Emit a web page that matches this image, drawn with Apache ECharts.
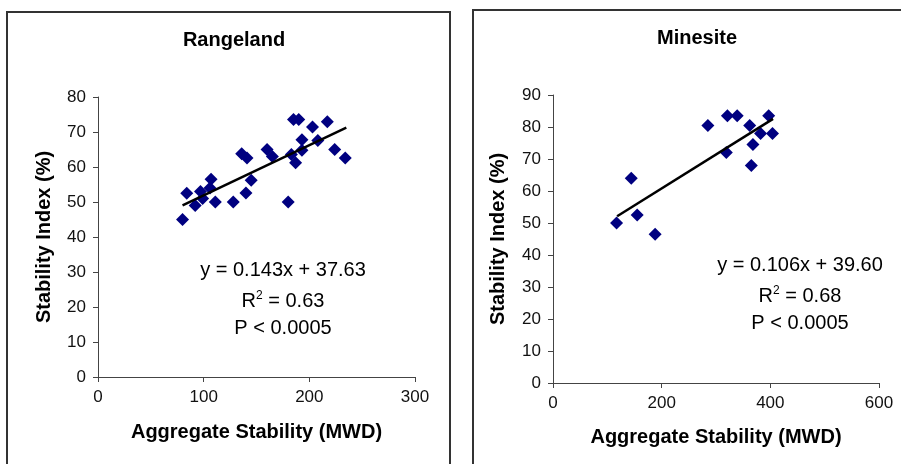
<!DOCTYPE html>
<html>
<head>
<meta charset="utf-8">
<script src="https://cdn.jsdelivr.net/npm/echarts@6/dist/echarts.min.js"></script>
<style>
  html, body { margin: 0; padding: 0; background: #fff; }
  #main { width: 901px; height: 464px; }
</style>
</head>
<body>
<div id="main"></div>
<script>
// Rangeland: aggregate stability (MWD) vs stability index (%)
var rangePoints = [
  [80, 45], [84, 52.5], [92, 49], [97, 53], [99, 51], [106, 54], [107, 56.5],
  [111, 50], [128, 50], [140, 52.6], [145, 56.2], [136, 63.8], [141, 62.6],
  [160, 65], [165, 63], [180, 50], [183, 63.6], [187, 61.2], [185, 73.6],
  [190, 73.6], [193, 67.8], [193, 64.8], [203, 71.4], [208, 67.6],
  [217, 72.9], [224, 65], [234, 62.6]
]
// Minesite
var minePoints = [
  [117, 50], [144, 64], [155, 52.5], [188, 46.5], [285, 80.5], [319, 72],
  [321, 83.5], [339, 83.5], [362, 80.5], [365, 68], [368, 74.5], [382, 78],
  [397, 83.5], [404, 78]
]
// regression fits (slope, intercept) and the x range they span
var rangeFit = [0.143, 37.63]
var rangeFitX = [80, 235]
var mineFit = [0.106, 39.60]
var mineFitX = [118, 405]

var rangeXTicks = [0, 300, 100]
var rangeYTicks = [0, 80, 10]
var mineXTicks = [0, 600, 200]
var mineYTicks = [0, 90, 10]

function fitLine(fit, xs) {
  return xs.map(function (x) { return [x, fit[0] * x + fit[1]] })
}

var font = 'Liberation Sans, Arial, sans-serif'
var tickLabel = { color: '#111', fontSize: 17, fontFamily: font, margin: 12 }
var axisLine = { lineStyle: { color: '#444', width: 1 } }
var axisTick = { length: 5, lineStyle: { color: '#444' } }
var nameStyle = { color: '#000', fontSize: 20, fontWeight: 'bold', fontFamily: font }

function xAxis(idx, t, gap) {
  return {
    type: 'value', gridIndex: idx, min: t[0], max: t[1], interval: t[2],
    name: 'Aggregate Stability (MWD)', nameLocation: 'middle', nameGap: gap,
    nameTextStyle: nameStyle,
    axisLine: axisLine, axisTick: axisTick, axisLabel: tickLabel,
    splitLine: { show: false }
  }
}
function yAxis(idx, t, gap) {
  return {
    type: 'value', gridIndex: idx, min: t[0], max: t[1], interval: t[2],
    name: 'Stability Index (%)', nameLocation: 'middle', nameGap: gap,
    nameTextStyle: nameStyle,
    axisLine: { show: true, lineStyle: { color: '#444', width: 1 } },
    axisTick: { show: true, length: 5, lineStyle: { color: '#444' } },
    axisLabel: tickLabel,
    splitLine: { show: false }
  }
}

function eqText(x, y, lines) {
  var base = { fontSize: 20, fontFamily: font, fill: '#000', align: 'center', verticalAlign: 'middle' }
  return lines.map(function (l, i) {
    return {
      type: 'text', z: 10,
      style: Object.assign({}, base, {
        x: x, y: y[i], text: l,
        rich: { sup: { fontSize: 12, fontFamily: font, verticalAlign: 'top', padding: [0, 0, 10, 0] },
                n: { fontSize: 20, fontFamily: font } }
      })
    }
  })
}

var myChart = echarts.init(document.getElementById('main'))
var option = {
  animation: false,
  backgroundColor: '#fff',
  title: [
    { text: 'Rangeland', left: 229, top: 25, textAlign: 'center',
      textStyle: { fontSize: 20, fontWeight: 'bold', fontFamily: font, color: '#000' } },
    { text: 'Minesite', left: 692, top: 23, textAlign: 'center',
      textStyle: { fontSize: 20, fontWeight: 'bold', fontFamily: font, color: '#000' } }
  ],
  grid: [
    { left: 98, top: 97, width: 317, height: 280 },
    { left: 553, top: 95, width: 326, height: 288 }
  ],
  xAxis: [xAxis(0, rangeXTicks, 45), xAxis(1, mineXTicks, 44)],
  yAxis: [yAxis(0, rangeYTicks, 44), yAxis(1, mineYTicks, 45)],
  series: [
    { type: 'scatter', xAxisIndex: 0, yAxisIndex: 0, data: rangePoints,
      symbol: 'diamond', symbolSize: 13, itemStyle: { color: '#000080', opacity: 1 } },
    { type: 'line', xAxisIndex: 0, yAxisIndex: 0, data: fitLine(rangeFit, rangeFitX),
      symbol: 'none', lineStyle: { color: '#000', width: 2.5 }, z: 3 },
    { type: 'scatter', xAxisIndex: 1, yAxisIndex: 1, data: minePoints,
      symbol: 'diamond', symbolSize: 13, itemStyle: { color: '#000080', opacity: 1 } },
    { type: 'line', xAxisIndex: 1, yAxisIndex: 1, data: fitLine(mineFit, mineFitX),
      symbol: 'none', lineStyle: { color: '#000', width: 2.5 }, z: 3 }
  ],
  graphic: [
    { type: 'rect', shape: { x: 7, y: 12, width: 443, height: 470 },
      style: { fill: 'none', stroke: '#333', lineWidth: 2 } },
    { type: 'rect', shape: { x: 473, y: 10, width: 440, height: 470 },
      style: { fill: 'none', stroke: '#333', lineWidth: 2 } }
  ].concat(
    eqText(283, [270, 301, 328], ['y = 0.143x + 37.63', '{n|R}{sup|2}{n| = 0.63}', 'P < 0.0005']),
    eqText(800, [265, 296, 323], ['y = 0.106x + 39.60', '{n|R}{sup|2}{n| = 0.68}', 'P < 0.0005'])
  )
}
myChart.setOption(option)
</script>
</body>
</html>
